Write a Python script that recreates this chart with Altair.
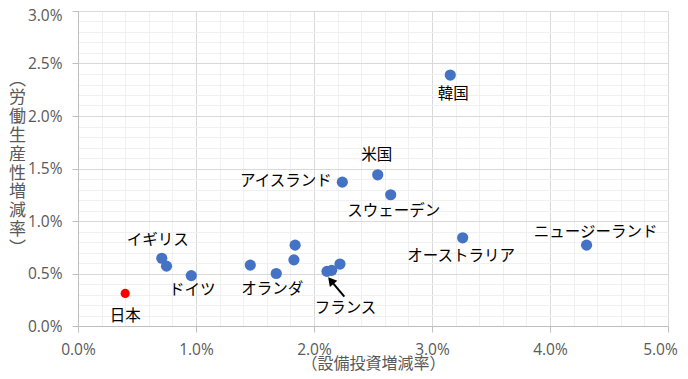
import altair as alt
import pandas as pd

# ---- data ----
countries = ["日本", "イギリス", "p3", "ドイツ", "p5", "オランダ", "p7", "p8",
             "フランス", "p10", "p11", "アイスランド", "米国", "スウェーデン",
             "オーストラリア", "韓国", "ニュージーランド"]
capex = [0.40, 0.71, 0.75, 0.96, 1.46, 1.68, 1.83, 1.84,
         2.11, 2.15, 2.22, 2.24, 2.54, 2.65, 3.26, 3.155, 4.31]
productivity = [0.31, 0.645, 0.57, 0.48, 0.58, 0.50, 0.63, 0.77,
                0.52, 0.53, 0.59, 1.37, 1.44, 1.25, 0.84, 2.39, 0.77]

# annotation arrow pointing to France (tail, head) in data units
arrow_x = [2.257, 2.143]
arrow_y = [0.279, 0.433]

x_ticks = [i / 5 for i in range(26)]      # 0.0 .. 5.0 step 0.2
y_ticks = [i / 10 for i in range(31)]     # 0.0 .. 3.0 step 0.1

x_title = "（設備投資増減率）"
y_title = list("︵労働生産性増減率︶")

# label placement styles: (dx, dy, align)
label_style = {
    "日本": (0, 23, "center"),
    "イギリス": (-4, -18, "center"),
    "ドイツ": (1, 14, "center"),
    "オランダ": (-4, 15, "center"),
    "フランス": (18.5, 37, "center"),
    "アイスランド": (-10.5, -1, "right"),
    "米国": (-1, -20, "center"),
    "スウェーデン": (3, 16, "center"),
    "オーストラリア": (-1.5, 18, "center"),
    "韓国": (3, 18.6, "center"),
    "ニュージーランド": (9, -13, "center"),
}

df = pd.DataFrame({"country": countries, "capex": capex, "prod": productivity})
arrow_df = pd.DataFrame({"capex": [arrow_x[0]], "prod": [arrow_y[0]],
                         "capex_end": [arrow_x[1]], "prod_end": [arrow_y[1]]})
head_df = pd.DataFrame({"capex": [arrow_x[1]], "prod": [arrow_y[1]]})

x_major = "abs(datum.value - round(datum.value)) < 1e-6"
y_major = "abs(datum.value*2 - round(datum.value*2)) < 1e-6"

x_scale = alt.Scale(domain=[0, 5], nice=False, zero=True)
y_scale = alt.Scale(domain=[0, 3], nice=False, zero=True)

axis_text = dict(
    labelFont="Open Sans", labelFontSize=15.5, labelColor="#595959",
    titleFont="Noto Sans CJK JP", titleFontWeight="normal",
    titleColor="#595959", domainColor="#bfbfbf", tickColor="#bfbfbf", tickSize=6,
    labelOverlap=False, labelFlush=False, labelPadding=10,
)

x_axis = alt.Axis(
    values=x_ticks,
    labelExpr=f"({x_major}) ? format(datum.value, '.1f') + '%' : ''",
    labelOffset={"condition": {"test": "datum.value > 4.99", "value": -8}, "value": 0},
    gridColor={"condition": {"test": x_major, "value": "#d9d9d9"}, "value": "#f0f0f0"},
    tickOpacity={"condition": {"test": x_major, "value": 1}, "value": 0},
    title=x_title,
    titleFontSize=16,
    titleY=37.5,
    titleBaseline="middle",
    **axis_text,
)
y_axis = alt.Axis(
    values=y_ticks,
    labelExpr=f"({y_major}) ? format(datum.value, '.1f') + '%' : ''",
    labelOffset={"condition": {"test": "datum.value > 2.99", "value": 4}, "value": 0},
    gridColor={"condition": {"test": y_major, "value": "#d9d9d9"}, "value": "#f0f0f0"},
    tickOpacity={"condition": {"test": y_major, "value": 1}, "value": 0},
    title=y_title,
    titleFontSize=17,
    titleAngle=0,
    titleX=-61,
    titleY=68,
    titleAlign="center",
    titleBaseline="middle",
    titleLineHeight=18.8,
    **axis_text,
)

X = alt.X("capex:Q", scale=x_scale, axis=x_axis)
Y = alt.Y("prod:Q", scale=y_scale, axis=y_axis)

points = alt.Chart(df).mark_circle(opacity=1).encode(
    x=X,
    y=Y,
    color=alt.condition(alt.datum.country == "日本", alt.value("#FF0000"), alt.value("#4472C4")),
    size=alt.condition(alt.datum.country == "日本", alt.value(85), alt.value(125)),
)

label_layers = []
for name, (dx, dy, align) in label_style.items():
    label_layers.append(
        alt.Chart(df).transform_filter(alt.datum.country == name).mark_text(
            dx=dx, dy=dy, align=align, baseline="middle",
            font="Noto Sans CJK JP", fontSize=15.5, color="#000000",
        ).encode(x=X, y=Y, text="country:N")
    )

arrow_line = alt.Chart(arrow_df).mark_rule(color="#000000", strokeWidth=2).encode(
    x=X, y=Y, x2="capex_end:Q", y2="prod_end:Q",
)
arrow_head = alt.Chart(head_df).mark_point(
    shape="triangle-up", filled=True, color="#000000", opacity=1, size=95, angle=320
).encode(x=X, y=Y)

chart = alt.layer(points, *label_layers, arrow_line, arrow_head).properties(
    width=590,
    height=315,
    autosize=alt.AutoSizeParams(type="none"),
    padding={"left": 70, "top": 3, "right": 10, "bottom": 45},
).configure_view(
    stroke="transparent"
)

chart.save("out.html", embed_options={"renderer": "svg", "actions": False})
